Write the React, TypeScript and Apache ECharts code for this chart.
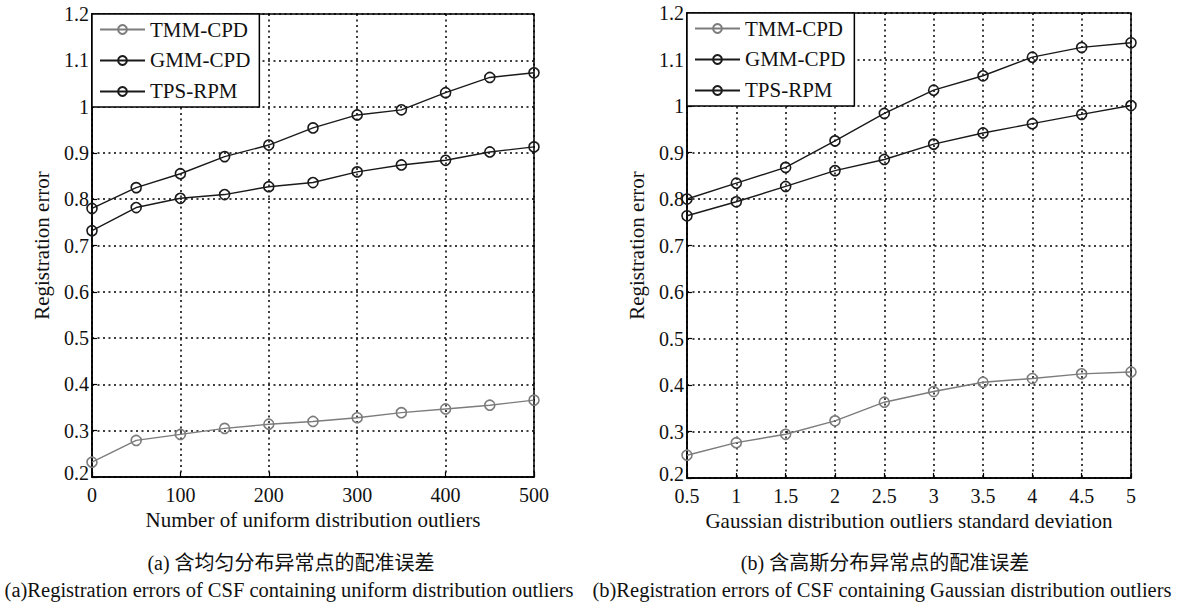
import React, { useEffect, useRef } from "react";
import * as echarts from "echarts";

// (a) uniform-distribution outliers
const outlierCounts = [0, 50, 100, 150, 200, 250, 300, 350, 400, 450, 500];
const tmmUniform = [0.232, 0.279, 0.292, 0.305, 0.314, 0.32, 0.328, 0.339, 0.347, 0.355, 0.366];
const gmmUniform = [0.732, 0.782, 0.802, 0.81, 0.827, 0.836, 0.859, 0.874, 0.884, 0.902, 0.913];
const tpsUniform = [0.78, 0.825, 0.855, 0.892, 0.917, 0.954, 0.982, 0.993, 1.03, 1.063, 1.073];

// (b) Gaussian-distribution outliers
const stdDevs = [0.5, 1, 1.5, 2, 2.5, 3, 3.5, 4, 4.5, 5];
const tmmGauss = [0.249, 0.276, 0.294, 0.323, 0.363, 0.386, 0.406, 0.414, 0.424, 0.428];
const gmmGauss = [0.764, 0.794, 0.827, 0.861, 0.885, 0.918, 0.942, 0.962, 0.982, 1.001];
const tpsGauss = [0.8, 0.834, 0.868, 0.925, 0.984, 1.034, 1.065, 1.105, 1.126, 1.136];

const methodNames = ["TMM-CPD", "GMM-CPD", "TPS-RPM"];
const methodColors = ["#7c7c7c", "#1a1a1a", "#1a1a1a"];

const FONT = "'Liberation Serif', 'Times New Roman', 'Noto Sans CJK SC', serif";

const zip = (xs: number[], ys: number[]) => xs.map((x, i) => [x, ys[i]]);

function makeSeries(name: string, color: string, idx: number, data: number[][]) {
  return {
    name,
    type: "line",
    xAxisIndex: idx,
    yAxisIndex: idx,
    data,
    symbol: "circle",
    symbolSize: 10,
    smooth: false,
    lineStyle: { color, width: 1.4 },
    itemStyle: { color: "rgba(255,255,255,0)", borderColor: color, borderWidth: 1.6 },
    z: 5,
  };
}

function xAxisOf(idx: number, min: number, max: number, interval: number, name: string) {
  return {
    type: "value",
    gridIndex: idx,
    min,
    max,
    interval,
    name,
    nameLocation: "middle",
    nameGap: 32,
    nameTextStyle: { fontFamily: FONT, fontSize: 21, color: "#111" },
    axisLine: { show: true, lineStyle: { color: "#000", width: 1.5 } },
    axisTick: { show: true, inside: true, length: 5, lineStyle: { color: "#000", width: 1.2 } },
    axisLabel: { fontFamily: FONT, fontSize: 20, lineHeight: 16, color: "#111", margin: 10 },
    splitLine: { show: true, lineStyle: { color: "#000", width: 1.5, type: [2, 3.5] } },
  };
}

function yAxisOf(idx: number) {
  return {
    type: "value",
    gridIndex: idx,
    min: 0.2,
    max: 1.2,
    interval: 0.1,
    name: "Registration error",
    nameLocation: "middle",
    nameGap: 40,
    nameTextStyle: { fontFamily: FONT, fontSize: 21, color: "#111" },
    axisLine: { show: true, lineStyle: { color: "#000", width: 1.5 } },
    axisTick: { show: true, inside: true, length: 5, lineStyle: { color: "#000", width: 1.2 } },
    axisLabel: {
      fontFamily: FONT,
      fontSize: 20,
      lineHeight: 14,
      color: "#111",
      margin: 3,
      // the bottom label sits a little higher so it clears the x-axis labels
      formatter: (v: number) => {
        const s = String(Math.round(v * 10) / 10);
        return Math.abs(v - 0.2) < 1e-6 ? `{low|${s}}` : s;
      },
      rich: {
        low: { fontFamily: FONT, fontSize: 20, lineHeight: 14, color: "#111", padding: [0, 0, 8, 0] },
      },
    },
    splitLine: { show: true, lineStyle: { color: "#000", width: 1.5, type: [2, 3.5] } },
  };
}

function legendAt(left: number, top: number) {
  return {
    left,
    top,
    orient: "vertical",
    data: methodNames,
    itemWidth: 45,
    itemHeight: 11,
    itemGap: 10,
    padding: [5, 9, 5, 7],
    borderColor: "#000",
    borderWidth: 1.5,
    backgroundColor: "#fff",
    textStyle: { fontFamily: FONT, fontSize: 21, color: "#111" },
    selectedMode: false,
    z: 10,
  };
}

export default function App() {
  const ref = useRef<HTMLDivElement>(null);

  useEffect(() => {
    if (!ref.current) return;
    const chart = echarts.init(ref.current, null, { renderer: "svg" });
    const option = {
      animation: false,
      backgroundColor: "#fff",
      grid: [
        { left: 92, right: 648, top: 14, bottom: 127, show: true, borderColor: "#000", borderWidth: 1.5, backgroundColor: "transparent" },
        { left: 687, right: 51, top: 13, bottom: 126, show: true, borderColor: "#000", borderWidth: 1.5, backgroundColor: "transparent" },
      ],
      xAxis: [
        xAxisOf(0, 0, 500, 100, "Number of uniform distribution outliers"),
        xAxisOf(1, 0.5, 5, 0.5, "Gaussian distribution outliers standard deviation"),
      ],
      yAxis: [yAxisOf(0), yAxisOf(1)],
      legend: [legendAt(92, 14), legendAt(687, 13)],
      series: [
        makeSeries(methodNames[0], methodColors[0], 0, zip(outlierCounts, tmmUniform)),
        makeSeries(methodNames[1], methodColors[1], 0, zip(outlierCounts, gmmUniform)),
        makeSeries(methodNames[2], methodColors[2], 0, zip(outlierCounts, tpsUniform)),
        makeSeries(methodNames[0], methodColors[0], 1, zip(stdDevs, tmmGauss)),
        makeSeries(methodNames[1], methodColors[1], 1, zip(stdDevs, gmmGauss)),
        makeSeries(methodNames[2], methodColors[2], 1, zip(stdDevs, tpsGauss)),
      ],
      graphic: [
        {
          type: "text",
          x: 291,
          y: 563,
          style: { text: "(a) 含均匀分布异常点的配准误差", font: `20px ${FONT}`, fill: "#111", textAlign: "center", textVerticalAlign: "middle" },
        },
        {
          type: "text",
          x: 289,
          y: 590,
          style: { text: "(a)Registration errors of CSF containing uniform distribution outliers", font: `20.5px ${FONT}`, fill: "#111", textAlign: "center", textVerticalAlign: "middle" },
        },
        {
          type: "text",
          x: 885,
          y: 563,
          style: { text: "(b) 含高斯分布异常点的配准误差", font: `20px ${FONT}`, fill: "#111", textAlign: "center", textVerticalAlign: "middle" },
        },
        {
          type: "text",
          x: 882,
          y: 590,
          style: { text: "(b)Registration errors of CSF containing Gaussian distribution outliers", font: `20.5px ${FONT}`, fill: "#111", textAlign: "center", textVerticalAlign: "middle" },
        },
      ],
    };
    chart.setOption(option as any);
    return () => chart.dispose();
  }, []);

  return (
    <div
      ref={ref}
      style={{ position: "absolute", left: 0, top: 0, width: 1182, height: 604, background: "#fff" }}
    />
  );
}
